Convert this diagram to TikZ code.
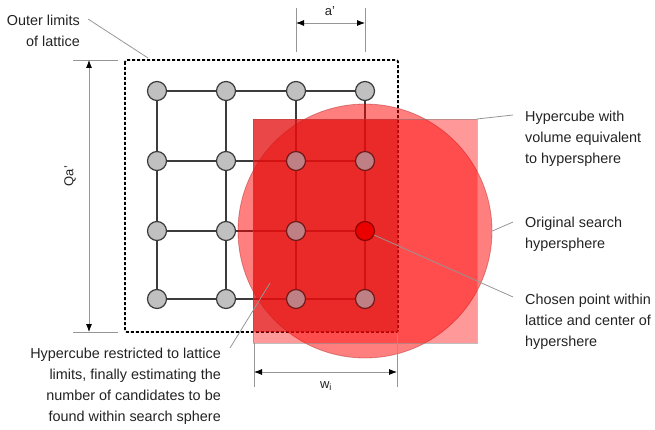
\documentclass[tikz,border=0pt]{standalone}
\usepackage{fontspec}
\setmainfont{Liberation Sans}
\usetikzlibrary{arrows.meta}
\definecolor{gridline}{RGB}{60,60,60}
\definecolor{nodefill}{RGB}{192,192,192}
\definecolor{tintfill}{RGB}{190,128,132}
\definecolor{tintborder}{RGB}{115,25,25}
\definecolor{leader}{RGB}{150,150,150}
\definecolor{chosenred}{RGB}{235,0,0}
\definecolor{darkred}{RGB}{140,0,0}
\definecolor{restrictred}{RGB}{220,20,20}
\definecolor{txtcol}{RGB}{35,35,35}
\tikzset{
  latnode/.style={circle, draw=gridline, fill=nodefill, line width=1.2pt, minimum size=19pt, inner sep=0pt},
  tintnode/.style={circle, draw=tintborder, fill=tintfill, line width=1.2pt, minimum size=19pt, inner sep=0pt},
  chosennode/.style={circle, draw=darkred, fill=chosenred, line width=1.2pt, minimum size=19pt, inner sep=0pt},
  latedge/.style={draw=gridline, line width=1.3pt},
  leaderline/.style={draw=leader, line width=0.8pt},
  extline/.style={draw=leader, line width=0.8pt},
  dimline/.style={draw=leader, line width=0.8pt, {Latex[color=black,length=8pt,width=6pt]}-{Latex[color=black,length=8pt,width=6pt]}},
  txtlabel/.style={font=\fontsize{14.4}{21}\selectfont, text=txtcol, inner sep=0pt},
  dimlabel/.style={font=\fontsize{13}{15}\selectfont, text=txtcol, inner sep=0pt},
}
\begin{document}
\begin{tikzpicture}[x=1pt,y=-1pt]
\useasboundingbox (0,0) rectangle (655,430);
% lattice nodes
\foreach \c/\x in {1/157,2/226,3/296,4/365}{
  \foreach \r/\y in {1/91,2/161,3/231,4/299}{
    \coordinate (p\c\r) at (\x,\y);
  }
}
% edges
\foreach \r in {1,2,3,4}{
  \draw[latedge] (p1\r) -- (p2\r) -- (p3\r) -- (p4\r);
}
\foreach \c in {1,2,3,4}{
  \draw[latedge] (p\c1) -- (p\c2) -- (p\c3) -- (p\c4);
}
\foreach \c/\r in {1/1,2/1,3/1,4/1,1/2,2/2,1/3,2/3,1/4,2/4}{
  \node[latnode] (n\c\r) at (p\c\r) {};
}
% outer limits of lattice
\draw[black, line width=1.8pt, dash pattern=on 3pt off 2pt, rounded corners=2pt] (125,60) rectangle (398,332);
\coordinate (outerTL) at (148,58);
% hypersphere
\node[circle, minimum size=254pt, inner sep=0pt, fill=red, fill opacity=0.5, draw=red!60!black, draw opacity=0.35, line width=0.8pt] (sphere) at (365,231) {};
% hypercube
\fill[red, fill opacity=0.4] (253,119) rectangle (477,343);
\draw[gray, opacity=0.5, line width=0.6pt] (253,119) rectangle (477,343);
\coordinate (cubeTR) at (477,119);
% restricted hypercube
\fill[restrictred, fill opacity=0.6] (253,119) rectangle (398,332);
\coordinate (restrictpt) at (270,283);
% nodes seen through the red region
\foreach \c/\r in {3/2,4/2,3/3,3/4,4/4}{
  \node[tintnode] (n\c\r) at (p\c\r) {};
}
% chosen point
\node[chosennode] (chosen) at (p43) {};
% labels
\node[txtlabel, anchor=east, align=right] (outerlbl) at (80,31) {Outer limits\\of lattice};
\node[txtlabel, anchor=west, align=left] (cubelbl) at (525,139) {Hypercube with\\volume equivalent\\to hypersphere};
\node[txtlabel, anchor=west, align=left] (spherelbl) at (525,234) {Original search\\hypersphere};
\node[txtlabel, anchor=west, align=left] (chosenlbl) at (525,322) {Chosen point within\\lattice and center of\\hypershere};
\node[txtlabel, anchor=east, align=right] (restrictlbl) at (221,386) {Hypercube restricted to lattice\\limits, finally estimating the\\number of candidates to be\\found within search sphere};
% leader lines
\coordinate (outerend) at (88,19);
\coordinate (cubeend) at (513,115);
\coordinate (sphereend) at (513,222);
\coordinate (chosenend) at (513,297);
\coordinate (restrictend) at (230,348);
\draw[leaderline] (outerend) -- (outerTL);
\draw[leaderline] (cubeTR) -- (cubeend);
\draw[leaderline] (sphere.east) -- (sphereend);
\draw[leaderline] (chosen) -- (chosenend);
\draw[leaderline] (restrictpt) -- (restrictend);
% dimension a'
\coordinate (a1t) at (296,8); \coordinate (a1b) at (296,52);
\coordinate (a2t) at (365,8); \coordinate (a2b) at (365,52);
\draw[extline] (a1t) -- (a1b);
\draw[extline] (a2t) -- (a2b);
\coordinate (a1) at (296,23); \coordinate (a2) at (365,23);
\draw[dimline] (a1) -- (a2);
\node[dimlabel] (alabel) at (330,11) {a'};
% dimension Qa'
\coordinate (q1l) at (73,60); \coordinate (q1r) at (118,60);
\coordinate (q2l) at (73,332); \coordinate (q2r) at (118,332);
\draw[extline] (q1l) -- (q1r);
\draw[extline] (q2l) -- (q2r);
\coordinate (q1) at (89,60); \coordinate (q2) at (89,332);
\draw[dimline] (q1) -- (q2);
\node[dimlabel, rotate=90] (qlabel) at (70,176) {Qa'};
% dimension w_i
\coordinate (w1t) at (254,343); \coordinate (w1b) at (254,387);
\coordinate (w2t) at (397,334); \coordinate (w2b) at (397,387);
\draw[extline] (w1t) -- (w1b);
\draw[extline] (w2t) -- (w2b);
\coordinate (w1) at (254,372); \coordinate (w2) at (397,372);
\draw[dimline] (w1) -- (w2);
\node[dimlabel] (wlabel) at (326,386) {w\textsubscript{i}};
\end{tikzpicture}
\end{document}
